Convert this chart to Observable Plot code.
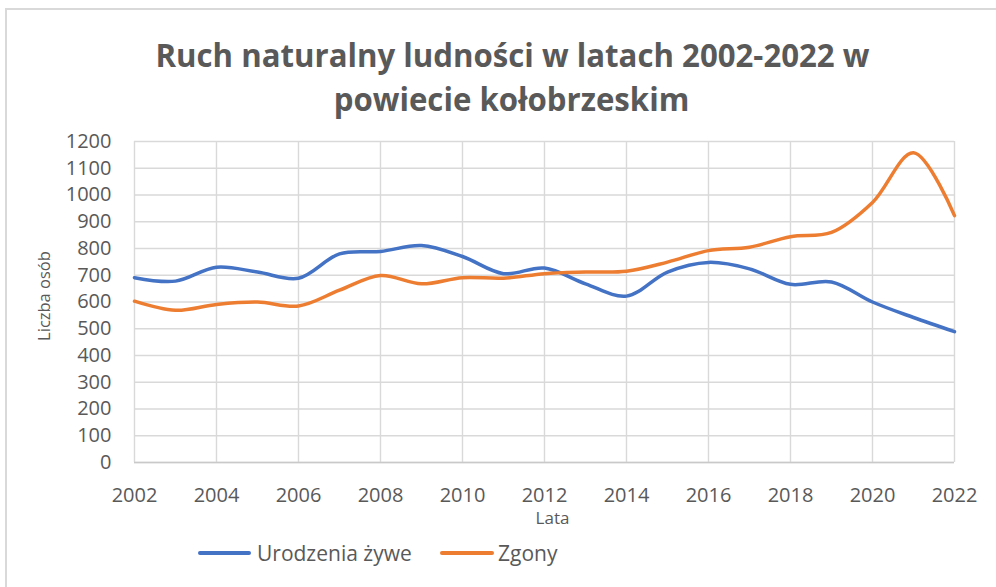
<!DOCTYPE html>
<html>
<head>
<meta charset="utf-8">
<script src="https://cdn.jsdelivr.net/npm/d3@7"></script>
<script src="https://cdn.jsdelivr.net/npm/@observablehq/plot@0.6"></script>
<style>
  html, body { margin: 0; padding: 0; background: #fff; }
  #wrap { position: relative; width: 996px; height: 587px; overflow: hidden; background: #fff; font-family: "Open Sans", sans-serif; }
  #frame { position: absolute; left: 5px; top: 8px; width: 1000px; height: 600px; border-left: 2px solid #d9d9d9; border-top: 2px solid #d9d9d9; }
  #title { position: absolute; left: 14px; width: 996px; top: 33px; text-align: center; color: #595959; font-weight: 700; font-size: 32px; line-height: 44px; }
  #title span { display: inline-block; white-space: nowrap; }
  #chart { position: absolute; left: 0; top: 120px; }
  #legend { position: absolute; top: 538px; left: 0; width: 996px; height: 30px; color: #595959; font-size: 21px; }
  .sw { position: absolute; top: 13px; height: 4px; border-radius: 2px; }
  .lt { position: absolute; top: 0; line-height: 30px; white-space: nowrap; }
</style>
</head>
<body>
<div id="wrap">
  <div id="frame"></div>
  <div id="title"><span id="t1">Ruch naturalny ludności w latach 2002-2022 w</span><br><span id="t2">powiecie kołobrzeskim</span></div>
  <div id="chart"></div>
  <div id="legend"></div>
</div>
<script>
const years = [2002,2003,2004,2005,2006,2007,2008,2009,2010,2011,2012,2013,2014,2015,2016,2017,2018,2019,2020,2021,2022];
const births = [691,678,730,712,689,780,789,811,770,706,727,668,622,712,748,724,666,675,600,542,489];
const deaths = [603,569,591,600,585,644,699,668,691,689,706,712,715,749,792,805,844,860,972,1158,923];
const seriesNames = ["Urodzenia żywe", "Zgony"];
const seriesColors = ["#4472C4", "#ED7D31"];
const xTicks = [2002,2004,2006,2008,2010,2012,2014,2016,2018,2020,2022];
const yTicks = [0,100,200,300,400,500,600,700,800,900,1000,1100,1200];
const xLabel = "Lata";
const yLabel = "Liczba osób";

const data = [];
years.forEach((y, i) => {
  data.push({year: y, value: births[i], series: seriesNames[0]});
  data.push({year: y, value: deaths[i], series: seriesNames[1]});
});

const chart = Plot.plot({
  width: 996,
  height: 420,
  marginTop: 21,
  marginBottom: 78,
  marginLeft: 134,
  marginRight: 42,
  style: {fontFamily: "Open Sans, sans-serif", color: "#595959", background: "transparent"},
  x: {domain: [2002, 2022]},
  y: {domain: [0, 1200]},
  color: {domain: seriesNames, range: seriesColors},
  marks: [
    Plot.gridX(xTicks, {stroke: "#d9d9d9", strokeOpacity: 1, strokeWidth: 1.4}),
    Plot.gridY(yTicks, {stroke: "#d9d9d9", strokeOpacity: 1, strokeWidth: 1.4}),
    Plot.ruleY([0], {stroke: "#c9c9c9", strokeWidth: 1.6}),
    Plot.axisX(xTicks, {tickSize: 0, tickPadding: 25, tickFormat: d => String(d), fontSize: 20, fill: "#595959", label: null}),
    Plot.axisY(yTicks, {tickSize: 0, tickPadding: 23, tickFormat: d => String(d), fontSize: 20, fill: "#595959", label: null}),
    Plot.line(data, {x: "year", y: "value", z: "series", stroke: "series", strokeWidth: 3.5, curve: "catmull-rom"}),
    Plot.text([xLabel], {frameAnchor: "bottom", text: d => d, dx: 8, dy: 56, fontSize: 17, fill: "#595959", textAnchor: "middle", lineAnchor: "middle"}),
    Plot.text([yLabel], {frameAnchor: "left", text: d => d, rotate: -90, dx: -90, dy: -6, fontSize: 16.5, fill: "#595959", textAnchor: "middle", lineAnchor: "middle"})
  ]
});
document.getElementById("chart").appendChild(chart);

// legend
const legend = document.getElementById("legend");
const lx = [[198, 251, 257], [440, 494, 498]];
seriesNames.forEach((name, i) => {
  const sw = document.createElement("div");
  sw.className = "sw";
  sw.style.left = lx[i][0] + "px";
  sw.style.width = (lx[i][1] - lx[i][0]) + "px";
  sw.style.background = seriesColors[i];
  legend.appendChild(sw);
  const t = document.createElement("div");
  t.className = "lt";
  t.style.left = lx[i][2] + "px";
  t.textContent = name;
  legend.appendChild(t);
});

// fit title width to reference (line 1 approx 714px wide)
const t1 = document.getElementById("t1");
const t2 = document.getElementById("t2");
const w1 = t1.getBoundingClientRect().width;
const s = 714 / w1;
t1.style.transform = `scaleX(${s})`;
t2.style.transform = `scaleX(${s})`;
</script>
</body>
</html>
